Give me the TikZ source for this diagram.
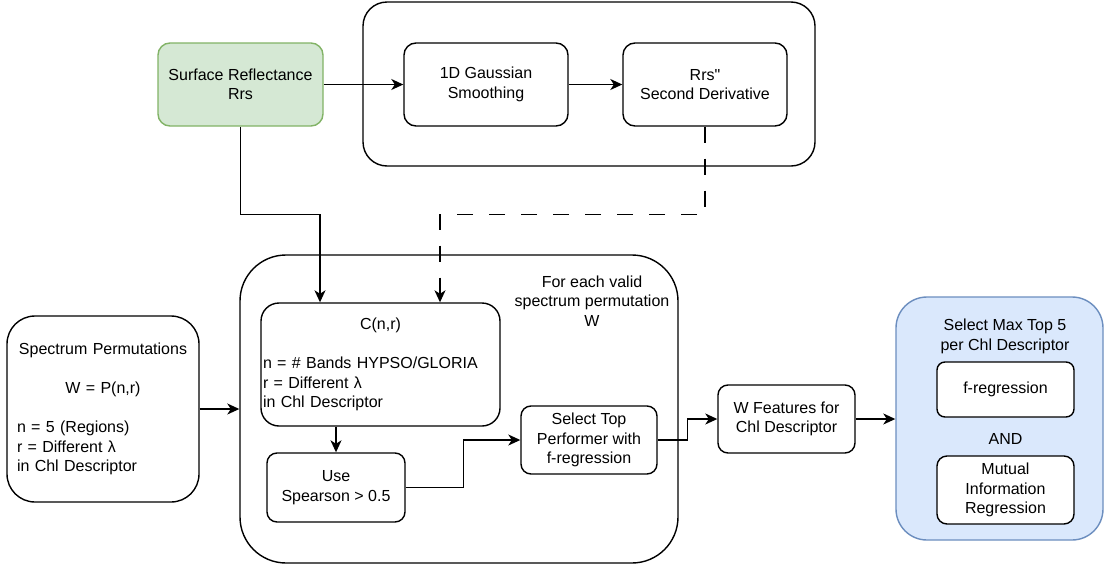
\documentclass[tikz,border=0pt]{standalone}
\usepackage{fontspec}
\setmainfont{Liberation Sans}[Ligatures=TeXOff]
\usetikzlibrary{arrows.meta}

\definecolor{srcfill}{HTML}{D5E8D4}
\definecolor{srcline}{HTML}{82B366}
\definecolor{selfill}{HTML}{DAE8FC}
\definecolor{selline}{HTML}{6C8EBF}

\begin{document}
\begin{tikzpicture}[x=1pt,y=-1pt,
  font=\fontsize{16}{19.5}\selectfont,
  >={Stealth[length=12pt,width=11pt,inset=3.5pt]},
  panel/.style={draw=black,line width=1.4pt,fill=white,inner sep=0pt,align=center,text=black},
  group/.style={draw=black,line width=1.4pt,fill=white,inner sep=0pt},
  lbl/.style={inner sep=0pt,align=center,text=black},
  flow/.style={draw=black,line width=1.4pt,->},
  weak/.style={dash pattern=on 16pt off 16pt}
]
\fill[white] (0,0) rectangle (1104,568);
\useasboundingbox (0,0) rectangle (1104,568);

% containers
\node[group,rounded corners=24pt,minimum width=452pt,minimum height=164pt] (topgrp) at (589,84) {};
\node[group,rounded corners=46pt,minimum width=438pt,minimum height=308pt] (botgrp) at (459,409) {};
\node[group,draw=selline,fill=selfill,rounded corners=31pt,minimum width=207pt,minimum height=243pt] (blue) at (999.5,418.5) {};

% preprocessing chain
\node[panel,draw=srcline,fill=srcfill,rounded corners=12pt,minimum width=165pt,minimum height=83pt] (src) at (240.5,84.5) {Surface Reflectance\\Rrs};
\node[panel,rounded corners=12pt,minimum width=164pt,minimum height=83pt] (gauss) at (486,84.5) {1D Gaussian\\Smoothing};
\node[panel,rounded corners=12pt,minimum width=164pt,minimum height=83pt] (deriv) at (705,84.5) {Rrs"\\Second Derivative};

% permutation input
\node[panel,rounded corners=28pt,minimum width=192pt,minimum height=186pt,text width=172pt,align=left] (spec) at (103,409)
  {\makebox[\linewidth]{Spectrum Permutations}\\[19.5pt]\makebox[\linewidth]{W = P(n,r)}\\[19.5pt]n = 5 (Regions)\\r = Different λ\\in Chl Descriptor};

% loop body
\node[lbl] (looplbl) at (592,301) {For each valid\\spectrum permutation\\W};
\node[panel,rounded corners=18pt,minimum width=239pt,minimum height=123pt,text width=235pt,align=left] (cbox) at (380.5,364.5)
  {\makebox[\linewidth]{C(n,r)}\\[19.5pt]n = \# Bands HYPSO/GLORIA\\r = Different λ\\in Chl Descriptor};
\node[panel,rounded corners=10pt,minimum width=138pt,minimum height=69pt] (use) at (336,487.5) {Use\\Spearson > 0.5};
\node[panel,rounded corners=10pt,minimum width=136pt,minimum height=68pt] (sel) at (589,440) {Select Top\\Performer with\\f-regression};

% output features
\node[panel,rounded corners=10pt,minimum width=137pt,minimum height=68pt] (wfeat) at (786.5,419) {W Features for\\Chl Descriptor};

% final selection
\node[lbl] (bluelbl) at (1005,336.5) {Select Max Top 5\\per Chl Descriptor};
\node[panel,rounded corners=8pt,minimum width=137pt,minimum height=55pt] (freg) at (1005.5,389.5) {f-regression};
\node[lbl] (andlbl) at (1005.5,439) {AND};
\node[panel,rounded corners=10pt,minimum width=137pt,minimum height=68pt] (mutual) at (1005.5,490) {Mutual\\Information\\Regression};

% connectors
\draw[flow] (src.east) -- (gauss.west);
\draw[flow] (gauss.east) -- (deriv.west);
\draw[flow] (src.south) -- ++(0,88) -| ([xshift=-60.5pt]cbox.north);
\draw[flow,weak] (deriv.south) -- ++(0,88) -| ([xshift=59.5pt]cbox.north);
\draw[flow] (spec.east) -- (spec.east -| botgrp.west);
\draw[flow] (use.north |- cbox.south) -- (use.north);
\draw[flow] (use.east) -- ++(58,0) |- (sel.west);
\draw[flow] (sel.east) -- ++(30,0) |- (wfeat.west);
\draw[flow] (wfeat.east) -- (wfeat.east -| blue.west);
\end{tikzpicture}
\end{document}
